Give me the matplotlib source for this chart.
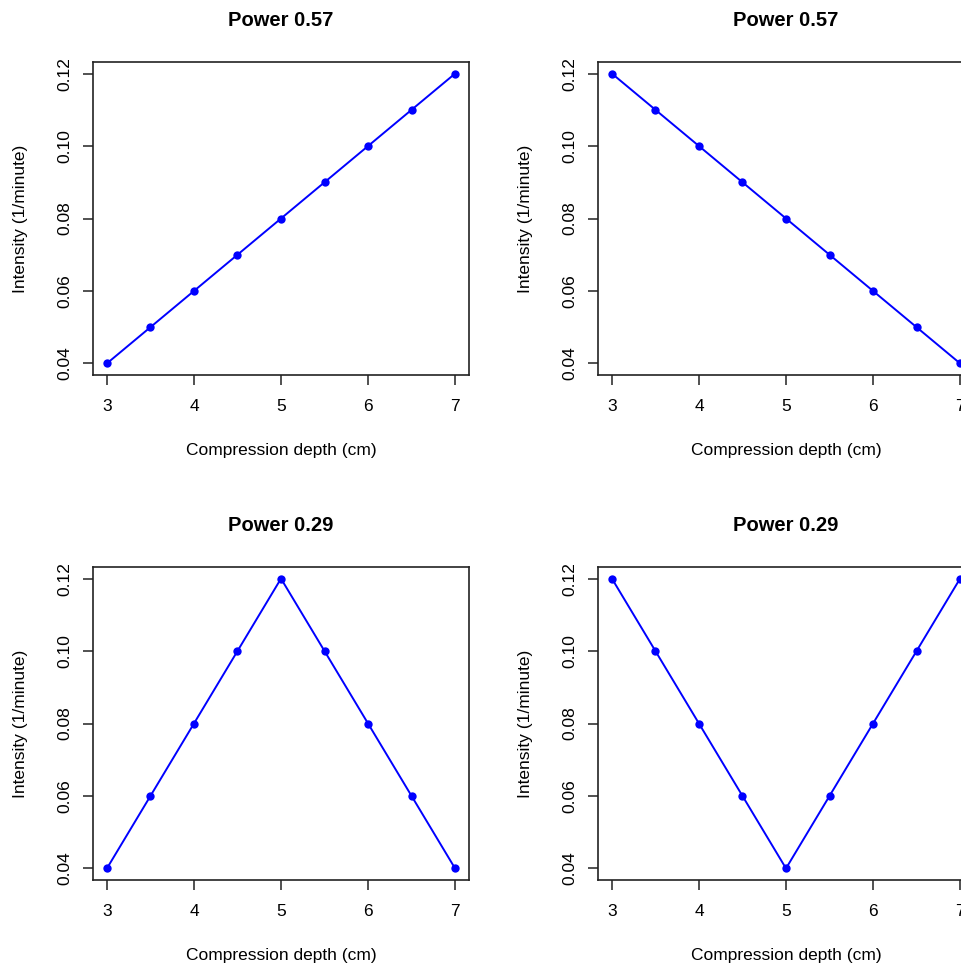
import matplotlib
matplotlib.use("Agg")
import matplotlib.pyplot as plt

plt.rcParams['font.family'] = ['Liberation Sans', 'DejaVu Sans']

depth = [3, 3.5, 4, 4.5, 5, 5.5, 6, 6.5, 7]
intensity_up = [0.04, 0.05, 0.06, 0.07, 0.08, 0.09, 0.10, 0.11, 0.12]
intensity_down = [0.12, 0.11, 0.10, 0.09, 0.08, 0.07, 0.06, 0.05, 0.04]
intensity_peak = [0.04, 0.06, 0.08, 0.10, 0.12, 0.10, 0.08, 0.06, 0.04]
intensity_valley = [0.12, 0.10, 0.08, 0.06, 0.04, 0.06, 0.08, 0.10, 0.12]
titles = ["Power 0.57", "Power 0.57", "Power 0.29", "Power 0.29"]
series = [intensity_up, intensity_down, intensity_peak, intensity_valley]
xticks = [3, 4, 5, 6, 7]
yticks = [0.04, 0.06, 0.08, 0.10, 0.12]
ytick_labels = ["0.04", "0.06", "0.08", "0.10", "0.12"]

W, H = 962, 964
fig = plt.figure(figsize=(W / 100, H / 100), dpi=100)

boxes = [(93, 62), (598, 62), (93, 567), (598, 567)]
bw, bh = 376, 313

for (left, top), title, ys in zip(boxes, titles, series):
    ax = fig.add_axes([left / W, 1 - (top + bh) / H, bw / W, bh / H])
    ax.plot(depth, ys, color='#0000FF', lw=1.4, marker='o', ms=6,
            markeredgewidth=0, clip_on=False)
    ax.set_xlim(2.84, 7.16)
    ax.set_ylim(0.0368, 0.1232)
    ax.set_xticks(xticks)
    ax.set_xticklabels([str(t) for t in xticks])
    ax.set_yticks(yticks)
    ax.set_yticklabels(ytick_labels, rotation=90, va='center')
    ax.tick_params(axis='both', length=7, width=1.1, labelsize=12.5,
                   direction='out', color='#222222')
    ax.tick_params(axis='x', pad=10)
    ax.tick_params(axis='y', pad=8)
    for s in ax.spines.values():
        s.set_linewidth(1.2)
        s.set_color('#222222')
    ax.set_title(title, fontsize=14.5, fontweight='bold', pad=26)
    ax.set_xlabel("Compression depth (cm)", fontsize=12.5, labelpad=21)
    ax.set_ylabel("Intensity (1/minute)", fontsize=12.5, labelpad=21)

fig.savefig("out.png", dpi=100)
